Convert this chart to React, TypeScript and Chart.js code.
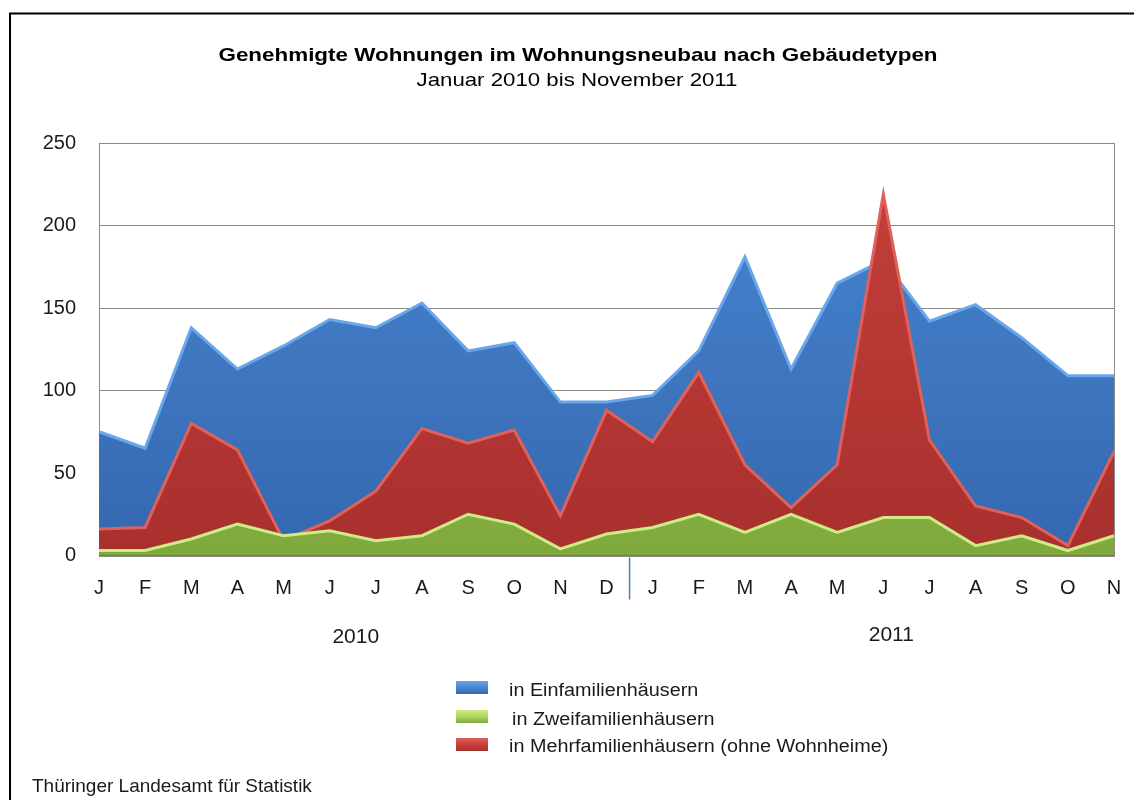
import { useEffect, useRef } from 'react';
import { Chart, registerables } from 'chart.js';

Chart.register(...registerables);

const months = ['J', 'F', 'M', 'A', 'M', 'J', 'J', 'A', 'S', 'O', 'N', 'D', 'J', 'F', 'M', 'A', 'M', 'J', 'J', 'A', 'S', 'O', 'N'];
const years = ['2010', '2011'];
const einfamilien = [75, 65, 138, 113, 127, 143, 138, 153, 124, 129, 93, 93, 97, 124, 181, 113, 165, 179, 142, 152, 132, 109, 109];
const zweifamilien = [3, 3, 10, 19, 12, 15, 9, 12, 25, 19, 4, 13, 17, 25, 14, 25, 14, 23, 23, 6, 12, 3, 12];
const mehrfamilien = [16, 17, 80, 64, 9, 21, 39, 77, 68, 76, 24, 88, 69, 111, 55, 29, 55, 219, 70, 30, 23, 6, 63];
const seriesNames = ['in Einfamilienhäusern', 'in Zweifamilienhäusern', 'in Mehrfamilienhäusern (ohne Wohnheime)'];
const titleText = 'Genehmigte Wohnungen im Wohnungsneubau nach Gebäudetypen';
const subtitleText = 'Januar 2010 bis November 2011';
const sourceText = 'Thüringer Landesamt für Statistik';

const FONT = '"Liberation Sans", Arial, sans-serif';

const palette = [
  { top: '#4A87D2', bottom: '#3468B0', edge: '#6AA6EA', line: '#2F5F9E' },
  { top: '#B0D860', bottom: '#7FA83C', edge: '#CDEB86', line: '#6E9334' },
  { top: '#C6403C', bottom: '#A8302D', edge: '#E0605A', line: '#8E2A27' },
];

function areaGradient(idx: number) {
  return (context: any) => {
    const chart = context.chart;
    const area = chart.chartArea;
    if (!area) return palette[idx].top;
    const g = chart.ctx.createLinearGradient(0, area.top, 0, area.bottom);
    g.addColorStop(0, palette[idx].top);
    g.addColorStop(1, palette[idx].bottom);
    return g;
  };
}

function stretchText(ctx: CanvasRenderingContext2D, text: string, x: number, y: number, sx: number, align: CanvasTextAlign) {
  ctx.save();
  ctx.translate(x, y);
  ctx.scale(sx, 1);
  ctx.textAlign = align;
  ctx.textBaseline = 'alphabetic';
  ctx.fillText(text, 0, 0);
  ctx.restore();
}

const decorPlugin = {
  id: 'decor',
  beforeDraw(chart: any) {
    const ctx = chart.ctx as CanvasRenderingContext2D;
    ctx.save();
    ctx.fillStyle = '#ffffff';
    ctx.fillRect(0, 0, chart.width, chart.height);
    ctx.strokeStyle = '#000000';
    ctx.lineWidth = 2;
    ctx.beginPath();
    ctx.moveTo(1134, 13.5);
    ctx.lineTo(10, 13.5);
    ctx.lineTo(10, 800);
    ctx.stroke();
    ctx.restore();
  },
  beforeDatasetsDraw(chart: any) {
    const ctx = chart.ctx as CanvasRenderingContext2D;
    const a = chart.chartArea;
    ctx.save();
    ctx.strokeStyle = '#8a8a8a';
    ctx.lineWidth = 1;
    ctx.strokeRect(Math.round(a.left) + 0.5, Math.round(a.top) + 0.5, Math.round(a.right - a.left), Math.round(a.bottom - a.top));
    ctx.restore();
  },
  afterDraw(chart: any) {
    const ctx = chart.ctx as CanvasRenderingContext2D;
    const xs = chart.scales.x;
    const a = chart.chartArea;
    ctx.save();
    ctx.fillStyle = '#000000';
    ctx.font = `bold 19px ${FONT}`;
    stretchText(ctx, titleText, 578, 61, 1.18, 'center');
    ctx.font = `19px ${FONT}`;
    stretchText(ctx, subtitleText, 577, 86, 1.17, 'center');

    // separator between the years
    const sepX = (xs.getPixelForValue(11) + xs.getPixelForValue(12)) / 2;
    ctx.strokeStyle = '#4A7EBB';
    ctx.lineWidth = 1.5;
    ctx.beginPath();
    ctx.moveTo(sepX, a.bottom + 2);
    ctx.lineTo(sepX, a.bottom + 44);
    ctx.stroke();

    // year labels
    ctx.fillStyle = '#1a1a1a';
    ctx.font = `20px ${FONT}`;
    const y2010 = (xs.getPixelForValue(0) + xs.getPixelForValue(11)) / 2;
    const y2011 = (xs.getPixelForValue(12) + xs.getPixelForValue(22)) / 2;
    stretchText(ctx, years[0], y2010 + 3, 643, 1.05, 'center');
    stretchText(ctx, years[1], y2011 + 8, 641, 1.05, 'center');

    // legend (order: blue, green, red)
    const rows = [
      { ds: 0, sy: 681, ty: 696, tx: 509 },
      { ds: 1, sy: 710, ty: 725, tx: 512 },
      { ds: 2, sy: 738, ty: 752, tx: 509 },
    ];
    rows.forEach((r) => {
      const p = palette[r.ds];
      const g = ctx.createLinearGradient(0, r.sy, 0, r.sy + 13);
      g.addColorStop(0, p.edge);
      g.addColorStop(0.5, p.top);
      g.addColorStop(1, p.bottom);
      ctx.fillStyle = g;
      ctx.fillRect(456, r.sy, 32, 13);
      ctx.fillStyle = '#1a1a1a';
      ctx.font = `18px ${FONT}`;
      stretchText(ctx, chart.data.datasets[r.ds].label, r.tx, r.ty, 1.1, 'left');
    });

    ctx.fillStyle = '#1a1a1a';
    ctx.font = `19px ${FONT}`;
    stretchText(ctx, sourceText, 32, 792, 1.0, 'left');
    ctx.restore();
  },
};

export default function App() {
  const ref = useRef<HTMLCanvasElement | null>(null);

  useEffect(() => {
    if (!ref.current) return;
    const chart = new Chart(ref.current, {
      type: 'line',
      data: {
        labels: months,
        datasets: [
          {
            label: seriesNames[0],
            data: einfamilien,
            fill: 'origin',
            backgroundColor: areaGradient(0),
            borderColor: palette[0].edge,
            borderWidth: 3,
            pointRadius: 0,
            tension: 0,
            order: 3,
          },
          {
            label: seriesNames[1],
            data: zweifamilien,
            fill: 'origin',
            backgroundColor: areaGradient(1),
            borderColor: palette[1].edge,
            borderWidth: 3,
            pointRadius: 0,
            tension: 0,
            order: 1,
          },
          {
            label: seriesNames[2],
            data: mehrfamilien,
            fill: 'origin',
            backgroundColor: areaGradient(2),
            borderColor: palette[2].edge,
            borderWidth: 3,
            pointRadius: 0,
            tension: 0,
            order: 2,
          },
        ],
      },
      options: {
        animation: false,
        responsive: false,
        maintainAspectRatio: false,
        layout: { padding: { left: 0, top: 143, right: 20, bottom: 204.5 } },
        plugins: {
          legend: { display: false },
          title: { display: false },
          tooltip: { enabled: false },
        },
        scales: {
          x: {
            offset: false,
            grid: { display: false, drawTicks: false },
            border: { display: true, color: '#7a7a7a' },
            ticks: {
              color: '#1a1a1a',
              font: { family: FONT, size: 20 },
              padding: 21,
              maxRotation: 0,
              autoSkip: false,
            },
            afterFit: (s: any) => {
              s.height = 40;
              s.paddingLeft = 0;
              s.paddingRight = 0;
            },
          },
          y: {
            min: 0,
            max: 250,
            grid: { color: '#8a8a8a', drawTicks: false, lineWidth: 1 },
            border: { display: true, color: '#8a8a8a' },
            ticks: {
              stepSize: 50,
              color: '#1a1a1a',
              font: { family: FONT, size: 20 },
              padding: 23,
            },
            afterFit: (s: any) => {
              s.width = 99;
              s.paddingTop = 0;
              s.paddingBottom = 0;
            },
          },
        },
      },
      plugins: [decorPlugin],
    });
    return () => chart.destroy();
  }, []);

  return (
    <div style={{ position: 'absolute', left: 0, top: 0, width: 1134, height: 800 }}>
      <canvas ref={ref} width={1134} height={800} style={{ width: 1134, height: 800, display: 'block' }} />
    </div>
  );
}
